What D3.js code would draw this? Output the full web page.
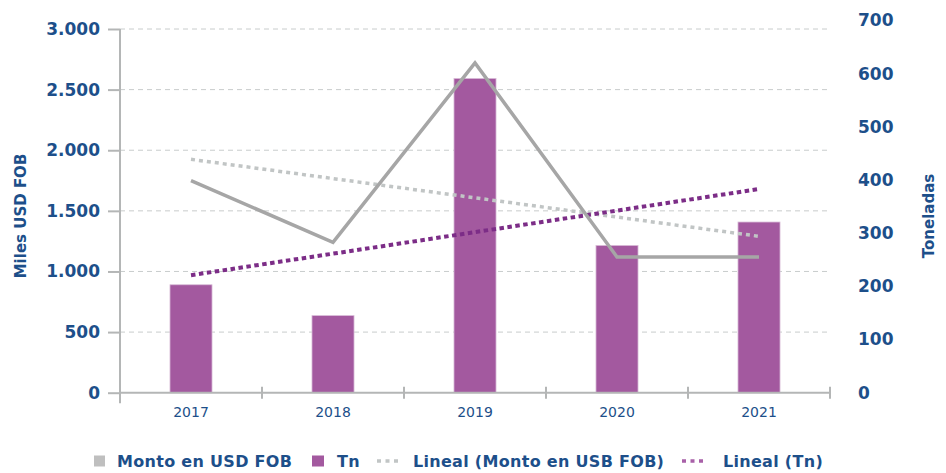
<!DOCTYPE html>
<html>
<head>
<meta charset="utf-8">
<script src="https://cdn.jsdelivr.net/npm/d3@7/dist/d3.min.js"></script>
<style>
  html, body { margin: 0; padding: 0; background: #ffffff; }
  svg { display: block; }
</style>
</head>
<body>
<svg id="chart" width="946" height="473"></svg>
<script>
// ---- data ----
const years = ["2017", "2018", "2019", "2020", "2021"];
const montoUSD = [1750, 1240, 2720, 1120, 1120];      // Miles USD FOB (left axis)
const toneladas = [203, 145, 591, 277, 321];           // Tn (right axis)
const trendYears = ["2017", "2021"];
const trendMonto = [1925, 1290];                       // Lineal (Monto en USB FOB)
const trendTn = [221, 383];                            // Lineal (Tn)
const leftTicks = [0, 500, 1000, 1500, 2000, 2500, 3000];
const rightTicks = [0, 100, 200, 300, 400, 500, 600, 700];
const legendLabels = ["Monto en USD FOB", "Tn", "Lineal (Monto en USB FOB)", "Lineal (Tn)"];

// ---- styles ----
const textColor = "#1d4f8a";
const barColor = "#a3599f";
const grayLine = "#a6a6a6";
const grayTrend = "#c1c5c5";
const purpleTrend = "#7c2d87";
const axisColor = "#b4b6b6";
const gridColor = "#c8cccc";
const font = "'DejaVu Sans', sans-serif";

const svg = d3.select("#chart");

const x = d3.scaleBand().domain(years).range([120, 830]).paddingInner(0.704).paddingOuter(0.352);
const yL = d3.scaleLinear().domain([0, 3000]).range([392.7, 29]);
const yR = d3.scaleLinear().domain([0, 700]).range([392.7, 20.5]);
const cx = d => x(d) + x.bandwidth() / 2;

const loc = d3.formatLocale({ decimal: ",", thousands: ".", grouping: [3], currency: ["$", ""] });
const fmt = loc.format(",");

// gridlines
svg.append("g").selectAll("line").data(leftTicks.filter(t => t > 0)).join("line")
  .attr("x1", 120).attr("x2", 830)
  .attr("y1", d => yL(d)).attr("y2", d => yL(d))
  .attr("stroke", gridColor).attr("stroke-width", 1).attr("stroke-dasharray", "5,4");

// bars
svg.append("g").selectAll("rect").data(years).join("rect")
  .attr("x", d => x(d))
  .attr("width", x.bandwidth())
  .attr("y", (d, i) => yR(toneladas[i]))
  .attr("height", (d, i) => yR(0) - yR(toneladas[i]))
  .attr("fill", barColor)
  .attr("stroke", "#d9bcd7").attr("stroke-width", 0.8);

// left axis
const gL = svg.append("g").attr("transform", "translate(120,0)")
  .call(d3.axisLeft(yL).tickValues(leftTicks).tickFormat(fmt).tickSize(12).tickPadding(8).tickSizeOuter(0));
gL.select(".domain").attr("stroke", axisColor).attr("stroke-width", 2)
  .attr("d", `M0,${yL(3000)}V${yL(0) + 10.5}`);
gL.selectAll(".tick line").attr("stroke", axisColor).attr("stroke-width", 2);
gL.selectAll(".tick text").attr("fill", textColor).attr("font-family", font)
  .attr("font-weight", "bold").attr("font-size", 17);

// x axis
const gX = svg.append("g").attr("transform", `translate(0,${yL(0)})`)
  .call(d3.axisBottom(x).tickSize(0).tickPadding(14));
gX.select(".domain").attr("stroke", axisColor).attr("stroke-width", 2).attr("d", "M120,0H830");
gX.selectAll(".tick text").attr("fill", textColor).attr("font-family", font).attr("font-size", 14);
// category separators
const sepX = years.map(y => x(y) + x.bandwidth() / 2 + x.step() / 2);
gX.append("g").selectAll("line").data(sepX).join("line")
  .attr("x1", d => d).attr("x2", d => d).attr("y1", -6).attr("y2", 6)
  .attr("stroke", axisColor).attr("stroke-width", 2);

// right axis (labels only)
const gR = svg.append("g").attr("transform", "translate(850,0)")
  .call(d3.axisRight(yR).tickValues(rightTicks).tickSize(0).tickPadding(8));
gR.select(".domain").remove();
gR.selectAll(".tick text").attr("fill", textColor).attr("font-family", font)
  .attr("font-weight", "bold").attr("font-size", 17);

// trend lines
const lineL = d3.line().x(d => cx(d[0])).y(d => yL(d[1]));
const lineR = d3.line().x(d => cx(d[0])).y(d => yR(d[1]));

svg.append("path").datum(trendYears.map((y, i) => [y, trendMonto[i]]))
  .attr("d", lineL).attr("fill", "none").attr("stroke", grayTrend)
  .attr("stroke-width", 3.5).attr("stroke-dasharray", "4,4");
svg.append("path").datum(trendYears.map((y, i) => [y, trendTn[i]]))
  .attr("d", lineR).attr("fill", "none").attr("stroke", purpleTrend)
  .attr("stroke-width", 4).attr("stroke-dasharray", "4.5,3.5");

// monto line
svg.append("path").datum(years.map((y, i) => [y, montoUSD[i]]))
  .attr("d", lineL).attr("fill", "none").attr("stroke", grayLine)
  .attr("stroke-width", 3.5).attr("stroke-linejoin", "miter");

// axis titles
svg.append("text").attr("transform", "translate(26,216) rotate(-90)")
  .attr("text-anchor", "middle").attr("fill", textColor).attr("font-family", font)
  .attr("font-weight", "bold").attr("font-size", 15).text("Miles USD FOB");
svg.append("text").attr("transform", "translate(934,216) rotate(-90)")
  .attr("text-anchor", "middle").attr("fill", textColor).attr("font-family", font)
  .attr("font-weight", "bold").attr("font-size", 15).text("Toneladas");

// legend
const lg = svg.append("g").attr("font-family", font).attr("font-weight", "bold")
  .attr("font-size", 16).attr("letter-spacing", "0.3px").attr("fill", textColor);
const ly = 461;
lg.append("rect").attr("x", 94).attr("y", ly - 5.5).attr("width", 11).attr("height", 11).attr("fill", "#bfbfbf");
lg.append("text").attr("x", 117).attr("y", ly).attr("dy", "0.35em").text(legendLabels[0]);
lg.append("rect").attr("x", 312).attr("y", ly - 5.5).attr("width", 12).attr("height", 11).attr("fill", barColor);
lg.append("text").attr("x", 337).attr("y", ly).attr("dy", "0.35em").text(legendLabels[1]);
lg.append("line").attr("x1", 377).attr("x2", 402).attr("y1", ly).attr("y2", ly)
  .attr("stroke", grayTrend).attr("stroke-width", 3.5).attr("stroke-dasharray", "4,4.5");
lg.append("text").attr("x", 413).attr("y", ly).attr("dy", "0.35em").text(legendLabels[2]);
lg.append("line").attr("x1", 682).attr("x2", 707).attr("y1", ly).attr("y2", ly)
  .attr("stroke", "#a860a8").attr("stroke-width", 3.5).attr("stroke-dasharray", "4,4.5");
lg.append("text").attr("x", 723).attr("y", ly).attr("dy", "0.35em").text(legendLabels[3]);
</script>
</body>
</html>
